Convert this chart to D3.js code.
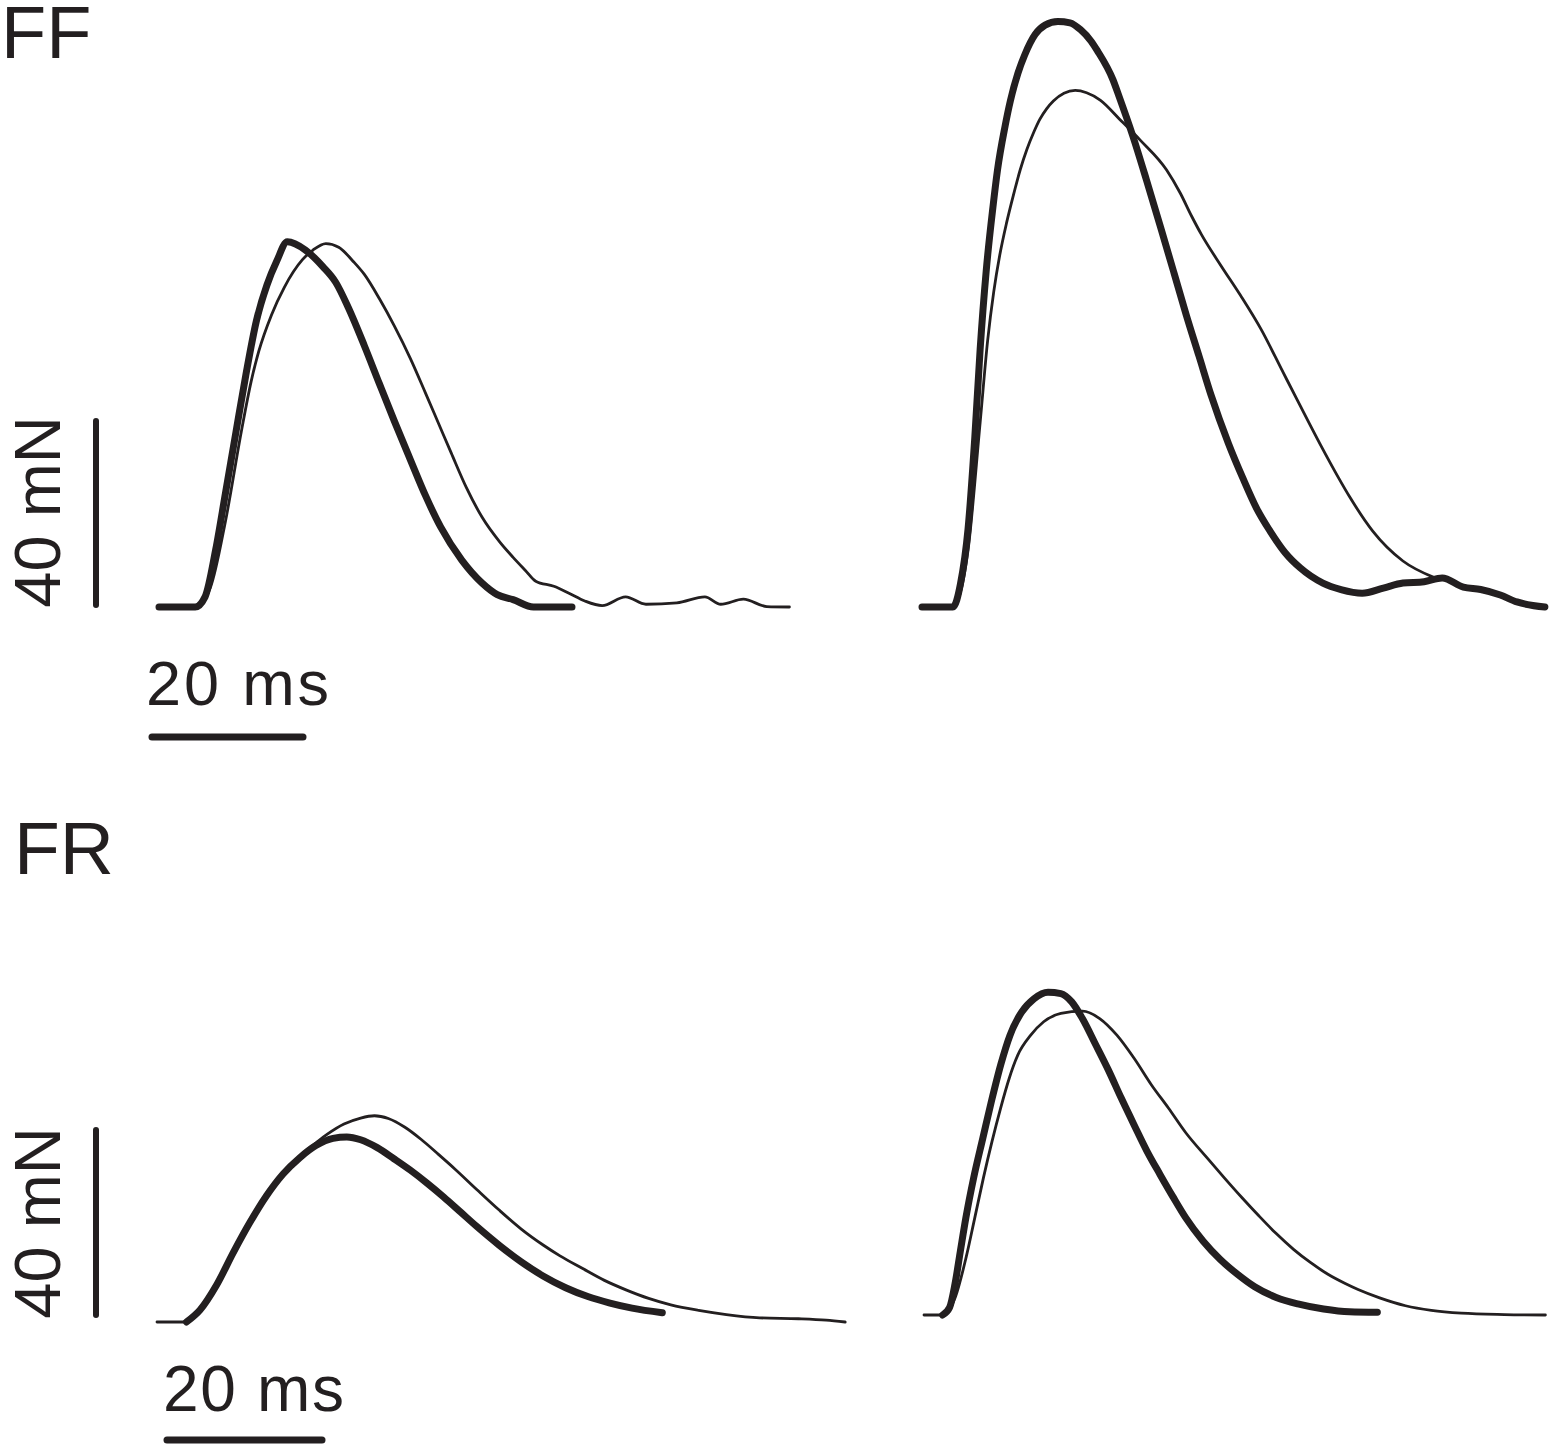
<!DOCTYPE html>
<html>
<head>
<meta charset="utf-8">
<script src="https://cdnjs.cloudflare.com/ajax/libs/d3/7.8.5/d3.min.js"></script>
<style>
  body { margin: 0; background: #fff; }
  svg { display: block; }
  text { font-family: "Liberation Sans", Arial, sans-serif; fill: #231f20; }
</style>
</head>
<body>
<svg id="chart"></svg>
<script>
// twitch force traces, [time ms, force mN] from the start of each sweep
var ffLeftThick = [[0,0],[4.8,0],[6.1,2.2],[7.5,12.4],[8.8,24.7],[10.2,38.1],[11.5,50.4],[12.9,62.2],[14.3,70.0],[15.6,75.2],[17.0,79.4],[19.4,77.6],[21.7,74.0],[23.4,70.6],[25.1,65.0],[27.2,56.8],[29.2,48.5],[31.2,40.3],[33.3,32.0],[35.3,24.2],[37.3,17.4],[40.1,10.2],[42.8,5.2],[44.8,2.7],[46.9,1.6],[49.6,0],[54.7,0]];
var ffLeftThin = [[0,0],[4.8,0],[6.8,4.2],[8.8,18.6],[10.9,38.1],[12.2,49],[13.2,55.5],[14.9,63.5],[16.6,69.5],[19.0,75.5],[20.4,77.6],[22.1,79.0],[23.8,78.2],[25.8,75.0],[27.2,72.3],[29.2,67.0],[31.2,61.0],[33.3,54.0],[35.3,46.5],[37.0,40.0],[38.7,33.5],[40.7,26.0],[42.8,19.5],[45.2,14.0],[46.9,10.8],[48.5,8.0],[49.9,5.6],[52.3,4.5],[54.3,3.0],[56.4,1.3],[58.7,0.3],[61.8,2.2],[64.5,0.6],[68.6,0.9],[72.3,2.2],[74.4,0.6],[77.4,1.7],[80.5,0.1],[83.5,0]];
var ffRightThick = [[0,0],[4.1,0],[5.1,5.1],[6.1,17],[7.0,37],[7.7,56],[8.5,73],[9.4,87],[10.0,95],[11.0,104.5],[11.7,110],[12.7,116],[13.6,120],[15.0,124.5],[16.3,126.5],[18.0,127.3],[19.6,127],[21.0,125.5],[22.4,123],[23.2,121],[25.3,114.6],[26.1,111],[27.9,102.5],[29.7,93],[31.7,82],[33.4,72.5],[35.0,63.5],[36.7,54.5],[38.3,46],[40.6,35.5],[42.5,28],[44.3,21.5],[46.1,16.5],[48.1,11.8],[50.1,8.5],[53.1,5.2],[55.5,3.8],[58.3,3.0],[61.1,4.1],[63.7,5.2],[66.5,5.5],[68.9,6.3],[71.7,4.3],[74.0,3.8],[76.6,2.6],[78.8,1.1],[82.5,0]];
var ffRightThin = [[0,0],[4.1,0],[6.1,12.4],[7.7,40.1],[8.7,58],[9.5,68.5],[10.3,76.5],[11.2,83.5],[12.1,89.5],[13.0,95],[13.9,99.5],[14.8,103.2],[15.6,106],[16.5,108.3],[17.4,110],[18.8,111.7],[20.3,112.3],[21.8,111.8],[23.6,110.2],[26.2,106],[28.9,101.5],[32.4,95],[34.2,90],[35.7,85.0],[37.0,81.0],[39.6,74.2],[42.2,67.7],[44.9,60.4],[47.8,51.1],[49.8,44.7],[52.8,35.2],[55.1,28.3],[56.7,23.8],[59.7,16.5],[63.7,10],[67.7,6.5]];
var frLeftThick = [[3.8,0],[5.55,2.6],[7.69,8],[9.84,15],[11.98,21.5],[14.13,27.3],[16.27,32],[18.41,35.5],[20.56,38.2],[22.71,39.7],[24.49,40],[26.28,39.4],[28.42,37.7],[30.57,35.3],[32.71,32.8],[34.86,30.0],[37.0,27.0],[39.15,23.8],[41.29,20.6],[44.15,16.6],[47.0,13.0],[49.87,9.9],[52.73,7.4],[55.59,5.5],[58.45,4.1],[61.3,3.0],[65.2,2.0]];
var frLeftThin = [[0,0],[3.8,0],[5.55,2.8],[7.69,8.4],[9.84,15.5],[11.98,22],[14.13,27.8],[16.27,32.3],[18.41,35.9],[20.56,38.8],[21.98,40.6],[24.13,42.8],[26.28,44.1],[28.06,44.6],[29.85,44.0],[31.99,42.1],[34.14,39.4],[36.28,36.3],[38.43,33.1],[41.29,28.6],[44.15,24.2],[47.0,20.1],[49.87,16.6],[52.0,14.3],[54.87,11.6],[57.73,9.0],[60.59,6.9],[63.44,5.1],[66.3,3.7],[69.9,2.5],[73.47,1.6],[77.76,0.9],[82.77,0.7],[86.34,0.4],[88.8,0]];
var frRightThick = [[2.4,0],[3.3,1.6],[4.0,6.7],[4.7,13.9],[5.4,21.0],[6.4,29.6],[7.6,38.3],[8.7,46.2],[9.9,54.1],[11.1,60.5],[12.6,65.5],[14.2,68.4],[16.0,69.8],[17.66,69.5],[19.06,67.7],[20.44,64.1],[22.11,58.6],[23.78,53.0],[25.45,46.9],[27.11,41.1],[28.78,35.4],[30.45,30.4],[32.11,25.6],[33.78,21.0],[36.0,16.0],[38.23,12.0],[40.45,8.8],[42.67,6.1],[45.45,3.8],[48.23,2.4],[51.56,1.3],[54.9,0.7],[58.5,0.6]];
var frRightThin = [[0,0],[2.38,0],[4.05,3.9],[5.44,12.5],[6.55,21.0],[7.66,29.6],[8.77,37.5],[9.88,44.7],[11.0,51.2],[12.1,56.2],[13.77,60.5],[15.44,63.4],[17.66,65.2],[20.44,65.7],[22.67,64.1],[24.89,60.5],[27.11,55.5],[29.33,49.8],[31.56,44.7],[33.78,39.4],[36.56,33.9],[38.78,29.6],[41.01,25.4],[43.23,21.4],[45.45,17.6],[47.68,14.2],[49.9,11.3],[52.12,8.8],[54.35,6.8],[56.01,5.5],[58.79,3.7],[62.13,2.0],[65.46,1.0],[69.34,0.4],[74.9,0.1],[80.18,0]];

// labels and scale bars
var panelLabels = ["FF", "FR"];
var barTime = 20;   // ms
var barForce = 40;  // mN
var timeLabel = barTime + " ms";
var forceLabel = barForce + " mN";

var ink = "#231f20";
var W = 1556, H = 1449;

var svg = d3.select("#chart")
    .attr("width", W)
    .attr("height", H);

// layout of each panel (pixel placement only)
var panels = [
    {
        label: panelLabels[0], labelX: 1, labelY: 58, labelSize: 74,
        pxPerMs: 7.55, pxPerMn: 4.6,
        sweeps: [
            { x0: 159, y0: 607, thin: ffLeftThin, thick: ffLeftThick },
            { x0: 922, y0: 607, thin: ffRightThin, thick: ffRightThick }
        ],
        vBar: { x: 96, y0: 605 },
        hBar: { x0: 152, y: 737 },
        timeText: { x: 146, y: 705, size: 63, len: 183 },
        forceText: { x: 60, y: 512, size: 65 }
    },
    {
        label: panelLabels[1], labelX: 14, labelY: 874, labelSize: 75,
        pxPerMs: 7.75, pxPerMn: 4.625,
        sweeps: [
            { x0: 157, y0: 1322, thin: frLeftThin, thick: frLeftThick },
            { x0: 924, y0: 1315, thin: frRightThin, thick: frRightThick }
        ],
        vBar: { x: 96, y0: 1315 },
        hBar: { x0: 167, y: 1440 },
        timeText: { x: 163, y: 1411, size: 64, len: 181 },
        forceText: { x: 60, y: 1223, size: 65 }
    }
];

panels.forEach(function (p) {
    var g = svg.append("g").attr("class", "panel");

    // panel title
    g.append("text")
        .attr("x", p.labelX)
        .attr("y", p.labelY)
        .style("font-size", p.labelSize + "px")
        .text(p.label);

    // traces
    p.sweeps.forEach(function (s) {
        var x = d3.scaleLinear().domain([0, 100]).range([s.x0, s.x0 + 100 * p.pxPerMs]);
        var y = d3.scaleLinear().domain([0, 100]).range([s.y0, s.y0 - 100 * p.pxPerMn]);
        var line = d3.line()
            .curve(d3.curveMonotoneX)
            .x(function (d) { return x(d[0]); })
            .y(function (d) { return y(d[1]); });

        g.append("path")
            .attr("d", line(s.thin))
            .attr("fill", "none")
            .attr("stroke", ink)
            .attr("stroke-width", 2.8)
            .attr("stroke-linejoin", "round")
            .attr("stroke-linecap", "round");

        g.append("path")
            .attr("d", line(s.thick))
            .attr("fill", "none")
            .attr("stroke", ink)
            .attr("stroke-width", 7)
            .attr("stroke-linejoin", "round")
            .attr("stroke-linecap", "round");
    });

    // scale bars
    var bx = d3.scaleLinear().domain([0, barTime]).range([p.hBar.x0, p.hBar.x0 + barTime * p.pxPerMs]);
    var by = d3.scaleLinear().domain([0, barForce]).range([p.vBar.y0, p.vBar.y0 - barForce * p.pxPerMn]);

    g.append("line")
        .attr("x1", p.vBar.x).attr("x2", p.vBar.x)
        .attr("y1", by(0)).attr("y2", by(barForce))
        .attr("stroke", ink)
        .attr("stroke-width", 6)
        .attr("stroke-linecap", "round");

    g.append("line")
        .attr("x1", bx(0)).attr("x2", bx(barTime))
        .attr("y1", p.hBar.y).attr("y2", p.hBar.y)
        .attr("stroke", ink)
        .attr("stroke-width", 7)
        .attr("stroke-linecap", "round");

    g.append("text")
        .attr("x", p.timeText.x)
        .attr("y", p.timeText.y)
        .attr("textLength", p.timeText.len)
        .attr("lengthAdjust", "spacing")
        .style("font-size", p.timeText.size + "px")
        .text(timeLabel);

    g.append("text")
        .attr("transform", "translate(" + p.forceText.x + "," + p.forceText.y + ") rotate(-90)")
        .attr("text-anchor", "middle")
        .style("font-size", p.forceText.size + "px")
        .text(forceLabel);
});
</script>
</body>
</html>
